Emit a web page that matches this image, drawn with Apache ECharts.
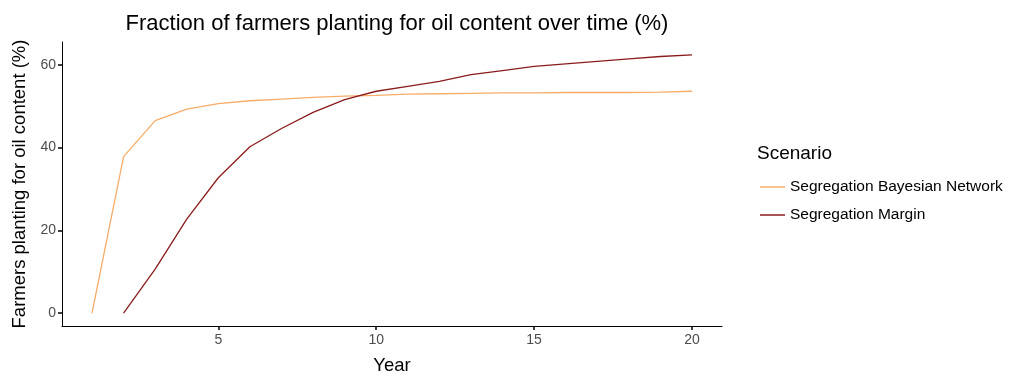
<!DOCTYPE html>
<html>
<head>
<meta charset="utf-8">
<script src="https://cdn.jsdelivr.net/npm/echarts@6/dist/echarts.min.js"></script>
<style>
  html, body { margin: 0; padding: 0; background: #fff; }
  #main { width: 1015px; height: 375px; }
</style>
</head>
<body>
<div id="main"></div>
<script>
// data
var years = [1, 2, 3, 4, 5, 6, 7, 8, 9, 10, 11, 12, 13, 14, 15, 16, 17, 18, 19, 20];
var bayesian = [0, 37.8, 46.5, 49.3, 50.6, 51.3, 51.7, 52.1, 52.4, 52.6, 52.9, 53.0, 53.1, 53.2, 53.2, 53.3, 53.3, 53.3, 53.4, 53.6];
var margin = [null, 0, 10.6, 22.7, 32.7, 40.2, 44.6, 48.5, 51.6, 53.6, 54.8, 56.0, 57.6, 58.6, 59.6, 60.2, 60.8, 61.4, 62.0, 62.4];
var xTicks = [5, 10, 15, 20];
var yTicks = [0, 20, 40, 60];

function pairs(vals) {
    return years.map(function (y, i) { return [y, vals[i]]; });
}

var chart = echarts.init(document.getElementById('main'));
var font = 'Liberation Sans';
var option = {
    animation: false,
    textStyle: { fontFamily: font },
    title: [{
        text: 'Fraction of farmers planting for oil content over time (%)',
        left: 392,
        textAlign: 'center',
        top: 8,
        textStyle: { fontSize: 22, fontWeight: 'normal', color: '#000', fontFamily: font }
    }, {
        text: 'Scenario',
        left: 752,
        top: 139,
        textStyle: { fontSize: 19, fontWeight: 'normal', color: '#000', fontFamily: font }
    }],
    legend: {
        orient: 'vertical',
        left: 755,
        top: 174,
        itemGap: 12,
        itemWidth: 25,
        itemHeight: 1.5,
        icon: 'rect',
        textStyle: { fontSize: 15.5, color: '#000', fontFamily: font },
        data: ['Segregation Bayesian Network', 'Segregation Margin']
    },
    grid: { left: 62, right: 293, top: 42, bottom: 49, outerBoundsMode: 'none' },
    xAxis: {
        type: 'value',
        min: 0.05,
        max: 20.95,
        name: 'Year',
        nameLocation: 'middle',
        nameGap: 30,
        nameTextStyle: { fontSize: 18.5, color: '#000' },
        axisLine: { onZero: false, lineStyle: { color: '#000', width: 1 } },
        axisTick: { show: true, length: 4, customValues: xTicks, lineStyle: { color: '#000', width: 1.5 } },
        axisLabel: { customValues: xTicks, color: '#4d4d4d', fontSize: 14, margin: 7 },
        splitLine: { show: false }
    },
    yAxis: {
        type: 'value',
        min: -3.12,
        max: 65.5,
        name: 'Farmers planting for oil content (%)',
        nameLocation: 'middle',
        nameGap: 31,
        nameTextStyle: { fontSize: 18.5, color: '#000' },
        axisLine: { show: true, onZero: false, lineStyle: { color: '#000', width: 1 } },
        axisTick: { show: true, length: 4, customValues: yTicks, lineStyle: { color: '#000', width: 1.5 } },
        axisLabel: { customValues: yTicks, color: '#4d4d4d', fontSize: 14, margin: 6 },
        splitLine: { show: false }
    },
    series: [{
        name: 'Segregation Bayesian Network',
        type: 'line',
        data: pairs(bayesian),
        showSymbol: false,
        color: '#f7ad68',
        lineStyle: { width: 1.3 }
    }, {
        name: 'Segregation Margin',
        type: 'line',
        data: pairs(margin),
        showSymbol: false,
        color: '#8b1c1c',
        lineStyle: { width: 1.3 }
    }]
};
chart.setOption(option);
</script>
</body>
</html>
